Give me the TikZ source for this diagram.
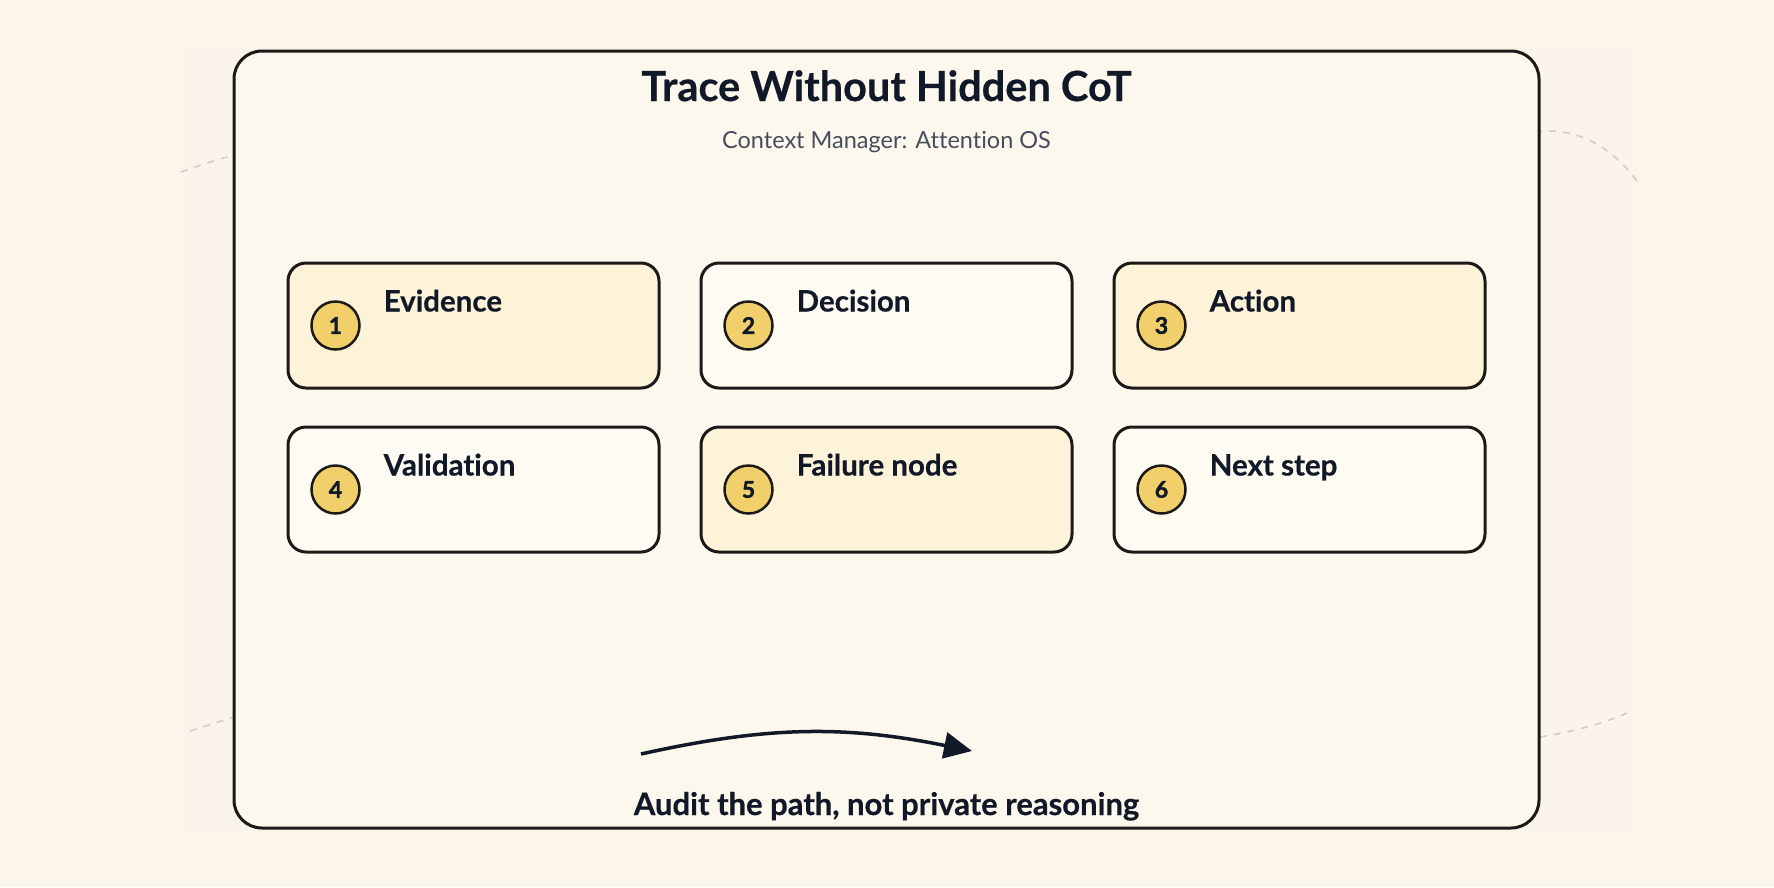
\documentclass[tikz,border=0pt]{standalone}
\usepackage{fontspec}
\setmainfont{Lato}[Ligatures=NoCommon]
\newfontfamily\heavyfont{Lato}[Ligatures=NoCommon, BoldFeatures={FakeBold=1.6}]
\newfontfamily\boldishfont{Lato}[Ligatures=NoCommon, BoldFeatures={FakeBold=0.5}]
\usetikzlibrary{arrows.meta}
\definecolor{bgc}{HTML}{FBF5EA}
\definecolor{panelc}{HTML}{FAF4EA}
\definecolor{cardc}{HTML}{FCF8EE}
\definecolor{yelc}{HTML}{FDF3D8}
\definecolor{whtc}{HTML}{FEFBF3}
\definecolor{badgec}{HTML}{F1D06C}
\definecolor{inkc}{HTML}{111827}
\definecolor{linec}{HTML}{1C1A19}
\definecolor{subc}{HTML}{474D5A}
\definecolor{dashc}{HTML}{D3CEC5}
\tikzset{
  cardbox/.style={draw=linec, line width=3pt, rounded corners=28pt, fill=cardc},
  stepbox/.style={draw=linec, line width=3pt, rounded corners=18pt,
    minimum width=371pt, minimum height=125pt, inner sep=0pt},
  yelbox/.style={stepbox, fill=yelc},
  whtbox/.style={stepbox, fill=whtc},
  badge/.style={circle, draw=linec, line width=2.5pt, fill=badgec,
    minimum size=48pt, inner sep=0pt, text=inkc, font=\fontsize{23}{23}\selectfont\heavyfont\bfseries},
  steplabel/.style={anchor=base west, inner sep=0pt, text=inkc,
    font=\fontsize{29.5}{29.5}\selectfont\boldishfont\bfseries},
  faintdash/.style={draw=dashc, line width=1.6pt, dash pattern=on 7pt off 7pt},
  flow/.style={draw=inkc, line width=3.5pt, -{Triangle[length=28pt, width=26pt]}}
}
\begin{document}
\begin{tikzpicture}[x=1pt, y=-1pt]
\useasboundingbox (0,0) rectangle (1774,887);
\fill[bgc] (0,0) rectangle (1774,887);
\fill[panelc] (181,45) rectangle (1637,832);
% faint dashed background curves
\draw[faintdash] (181,172) .. controls (200,165) and (220,159) .. (240,153);
\draw[faintdash] (1535,132) .. controls (1580,126) and (1615,150) .. (1640,185);
\draw[faintdash] (190,731) .. controls (205,726) and (222,721) .. (240,715);
\draw[faintdash] (1540,737) .. controls (1570,732) and (1600,725) .. (1627,713);
% card
\node[cardbox, minimum width=1305pt, minimum height=777pt, inner sep=0pt] (card) at (886.5,439.5) {};
% title
\node[text=inkc, font=\fontsize{41.5}{41.5}\selectfont\boldishfont\bfseries, anchor=base, inner sep=0pt] (title) at (886.5,101) {Trace Without Hidden CoT};
\node[text=subc, font=\fontsize{23.5}{23.5}\selectfont, anchor=base, inner sep=0pt] (sub) at (886.5,148) {Context Manager: Attention OS};
% boxes
\node[yelbox] (b1) at (473.5,325.5) {};
\node[whtbox] (b2) at (886.5,325.5) {};
\node[yelbox] (b3) at (1299.5,325.5) {};
\node[whtbox] (b4) at (473.5,489.5) {};
\node[yelbox] (b5) at (886.5,489.5) {};
\node[whtbox] (b6) at (1299.5,489.5) {};
\foreach \b/\n/\t in {b1/1/Evidence, b2/2/Decision, b3/3/Action, b4/4/Validation, b5/5/Failure node, b6/6/Next step}{
  \node[badge] (\b n) at ([xshift=49pt]\b.west) {\n};
  \node[steplabel] (\b t) at ([xshift=97pt, yshift=-50pt]\b.north west) {\t};
}
% arrow
\coordinate (as) at (641,754);
\coordinate (ae) at (972,751);
\draw[flow] (as) to[bend left=12] (ae);
\node[text=inkc, font=\fontsize{31}{31}\selectfont\boldishfont\bfseries, anchor=base, inner sep=0pt] (foot) at (886.5,815) {Audit the path, not private reasoning};
\end{tikzpicture}
\end{document}
